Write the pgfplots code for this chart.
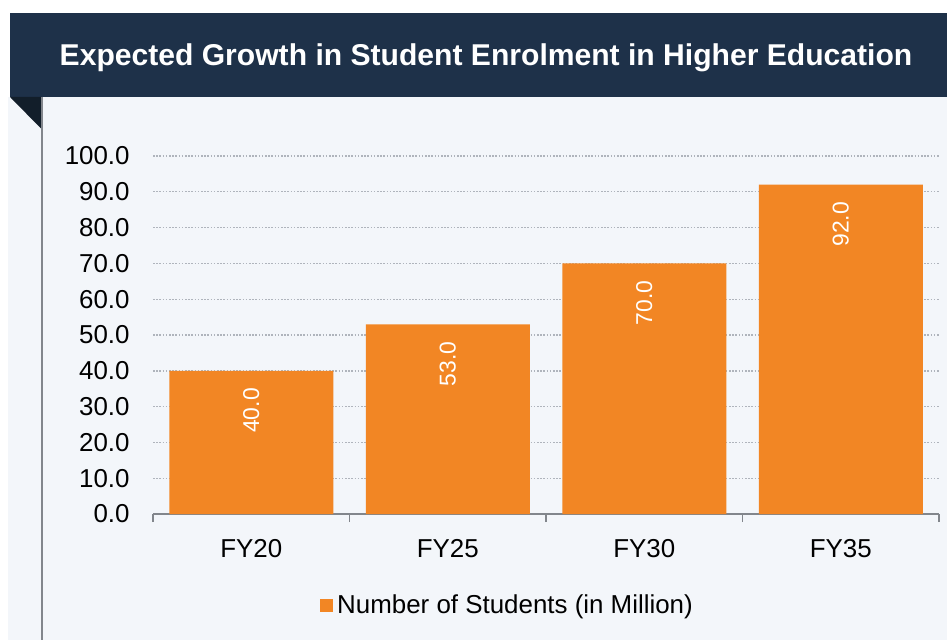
\documentclass[border=0pt]{standalone}
\usepackage{pgfplots}
\pgfplotsset{compat=1.18}
\usepackage{fontspec}
\setmainfont{Liberation Sans}
\definecolor{banner}{RGB}{30,49,73}
\definecolor{fold}{RGB}{18,30,42}
\definecolor{panel}{RGB}{243,246,250}
\definecolor{barc}{RGB}{242,134,36}
\definecolor{gridc}{RGB}{175,180,188}
\definecolor{axc}{RGB}{130,134,140}
\begin{document}
\begin{tikzpicture}
\begin{scope}[shift={(0,320bp)},x=0.5bp,y=-0.5bp]
\useasboundingbox (0,0) rectangle (947,640);
\fill[white] (0,0) rectangle (947,640);
\fill[panel] (8,97) rectangle (947,640);
\fill[banner] (10,13) rectangle (947,97);
\fill[fold] (10,97) -- (41.5,97) -- (41.5,129) -- cycle;
\draw[axc,line width=1bp] (41.5,97) -- (41.5,640);
\node[white,font=\fontsize{15.1}{17}\selectfont\bfseries] at (486,58) {Expected Growth in Student Enrolment in Higher Education};
\end{scope}
\begin{axis}[
  at={(76.5bp,63bp)}, anchor=south west,
  scale only axis,
  width=393bp, height=179bp,
  xmin=-0.5, xmax=3.5, ymin=0, ymax=100,
  axis x line*=bottom,
  axis y line*=left,
  y axis line style={draw=none},
  x axis line style={axc,line width=0.8bp,-},
  ybar, bar width=82bp,
  xtick={0,1,2,3},
  xticklabels={FY20,FY25,FY30,FY35},
  major tick length=0pt,
  minor xtick={-0.5,0.5,1.5,2.5,3.5},
  minor tick length=4bp,
  tick align=outside,
  minor x tick style={axc,line width=0.8bp},
  major tick style={draw=none},
  xticklabel style={font=\fontsize{13}{15}\selectfont, anchor=north, yshift=-9bp},
  ytick={0,10,...,100},
  ymajorgrids,
  grid style={gridc, dash pattern=on 0.8bp off 0.8bp, line width=0.7bp},
  yticklabel style={font=\fontsize{13}{15}\selectfont, anchor=east, inner sep=0pt, xshift=-11.5bp},
  /pgf/number format/assume math mode=true,
  yticklabel={\pgfmathprintnumber[fixed,fixed zerofill,precision=1]{\tick}},
  nodes near coords={\pgfmathprintnumber[fixed,fixed zerofill,precision=1,assume math mode=true]{\pgfplotspointmeta}},
  every node near coord/.append style={white, font=\fontsize{11.5}{14}\selectfont, anchor=east, rotate=90, inner sep=0pt, xshift=-8.5bp},
  legend style={at={(0.212,-0.255)}, anchor=west, draw=none, fill=none, inner sep=0pt, font=\fontsize{13}{15}\selectfont, legend cell align=left},
  legend image code/.code={\fill[barc] (0bp,-3.3bp) rectangle (6.6bp,3.3bp);},
  clip=false,
]
\addplot[fill=barc, draw=none] coordinates {(0,40) (1,53) (2,70) (3,92)};
\addlegendentry{Number of Students (in Million)}
\end{axis}
\end{tikzpicture}
\end{document}
